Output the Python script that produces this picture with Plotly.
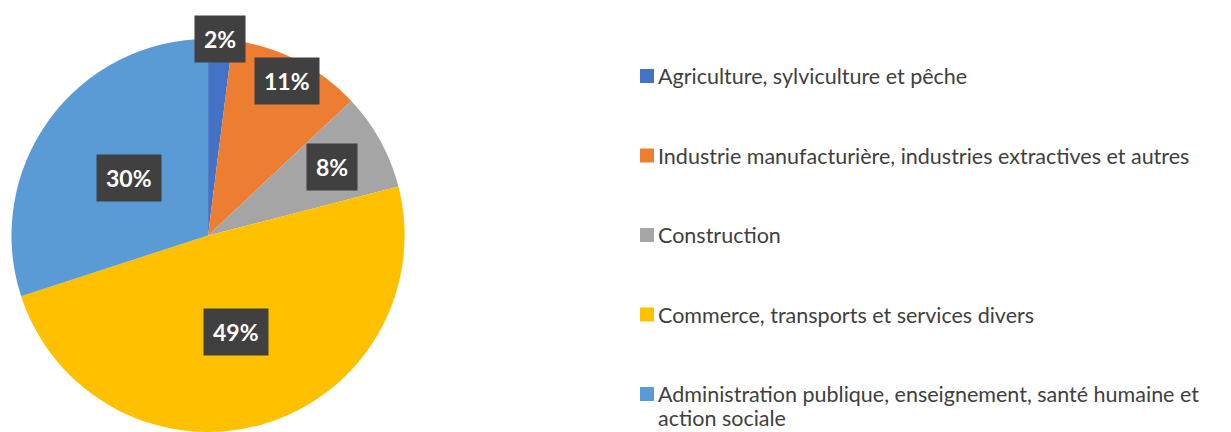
import math
import textwrap
import plotly.graph_objects as go

# ---- data ----
categories = [
    "Agriculture, sylviculture et pêche",
    "Industrie manufacturière, industries extractives et autres",
    "Construction",
    "Commerce, transports et services divers",
    "Administration publique, enseignement, santé humaine et action sociale",
]
values = [2, 11, 8, 49, 30]
colors = ["#4472C4", "#ED7D31", "#A5A5A5", "#FFC000", "#5B9BD5"]

# ---- layout / style ----
W, H = 1231, 432
dom_x = [0.009, 0.329]
dom_y = [0.0, 0.91]
label_radius = [1.0, 0.88, 0.72, 0.51, 0.50]   # radial placement of % boxes
text_color = "#404040"

fig = go.Figure(go.Pie(
    labels=categories, values=values, sort=False, direction="clockwise",
    rotation=0, marker=dict(colors=colors, line=dict(width=0)),
    textinfo="none", showlegend=False, hoverinfo="label+percent",
    domain=dict(x=dom_x, y=dom_y),
))

# pie geometry in pixels (as plotly lays it out)
cx = W * (dom_x[0] + dom_x[1]) / 2
cy = H * (1 - (dom_y[0] + dom_y[1]) / 2)
R = min(W * (dom_x[1] - dom_x[0]), H * (dom_y[1] - dom_y[0])) / 2

total = sum(values)
annotations = []
shapes = []
cum = 0
for i, v in enumerate(values):
    mid = (cum + v / 2) / total * 2 * math.pi
    cum += v
    r = R * label_radius[i]
    px = cx + r * math.sin(mid)
    py = cy - r * math.cos(mid)
    pct = round(v / total * 100)
    annotations.append(dict(
        x=px / W, y=1 - py / H, xref="paper", yref="paper",
        text=f"<b>{pct}%</b>", showarrow=False,
        font=dict(family="Lato", size=23, color="white"),
        bgcolor="#404040", borderpad=9, xanchor="center", yanchor="middle",
    ))

# manual legend
leg_x_sq = 640
sq = 14
leg_x_txt = 656
leg_y0 = 76
leg_step = 79.5
font_size = 21.5
line_h = 24
text_dy = 0
for i, cat in enumerate(categories):
    yc = leg_y0 + i * leg_step
    shapes.append(dict(
        type="rect", xref="paper", yref="paper",
        x0=leg_x_sq / W, x1=(leg_x_sq + sq) / W,
        y0=1 - (yc + sq / 2) / H, y1=1 - (yc - sq / 2) / H,
        fillcolor=colors[i], line=dict(width=0),
    ))
    for k, line in enumerate(textwrap.wrap(cat, 58)):
        annotations.append(dict(
            x=leg_x_txt / W, y=1 - (yc + text_dy + k * line_h) / H,
            xref="paper", yref="paper", showarrow=False,
            text=line, align="left", xanchor="left", yanchor="middle",
            font=dict(family="Lato", size=font_size, color=text_color),
        ))

fig.update_layout(
    width=W, height=H, margin=dict(l=0, r=0, t=0, b=0),
    paper_bgcolor="white", plot_bgcolor="white",
    annotations=annotations, shapes=shapes,
)
fig.write_html("out.html", config={"displayModeBar": False},
               post_script="document.body.style.margin='0';document.body.style.overflow='hidden';")
